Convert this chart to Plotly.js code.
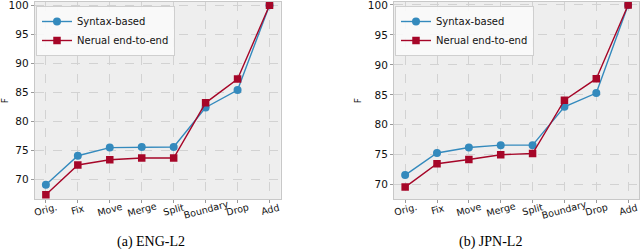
<!DOCTYPE html>
<html>
<head>
<meta charset="utf-8">
<script src="https://cdn.plot.ly/plotly-3.0.1.min.js"></script>
<style>html,body{margin:0;padding:0;background:#fff;}#chart{width:640px;height:249px;}</style>
</head>
<body>
<div id="chart"></div>
<script>
// ---- data ----
const categories = ["Orig.", "Fix", "Move", "Merge", "Split", "Boundary", "Drop", "Add"];
const seriesNames = ["Syntax-based", "Nerual end-to-end"];
const engSyntax = [69.1, 74.1, 75.5, 75.6, 75.6, 82.4, 85.4, 100.0];
const engNeural = [67.4, 72.5, 73.4, 73.7, 73.7, 83.2, 87.3, 100.0];
const jpnSyntax = [71.6, 75.3, 76.2, 76.6, 76.6, 83.0, 85.3, 100.0];
const jpnNeural = [69.6, 73.5, 74.2, 75.0, 75.2, 84.1, 87.7, 100.0];
const yTickVals = [70, 75, 80, 85, 90, 95, 100];
const captions = ["(a) ENG-L2", "(b) JPN-L2"];

// ---- style ----
const BLUE = "#348ABD", RED = "#A60628";
const FONT = "DejaVu Sans";
const TXT = "#111";

function trace(y, name, color, symbol, xa, ya, legend) {
  return {
    x: categories, y: y, name: name, type: "scatter", mode: "lines+markers",
    xaxis: xa, yaxis: ya, legend: legend,
    line: {color: color, width: 1.4},
    marker: {color: color, symbol: symbol, size: symbol === "square" ? 7.5 : 8,
             line: {width: 0}}
  };
}

const data = [
  trace(engSyntax, seriesNames[0], BLUE, "circle", "x", "y", "legend"),
  trace(engNeural, seriesNames[1], RED, "square", "x", "y", "legend"),
  trace(jpnSyntax, seriesNames[0], BLUE, "circle", "x2", "y2", "legend2"),
  trace(jpnNeural, seriesNames[1], RED, "square", "x2", "y2", "legend2")
];

const yBottom = (249 - 199.3) / 249, yTop = (249 - 2) / 249;

function xaxis(domain, anchor) {
  return {
    domain: domain, anchor: anchor, type: "category", range: [-0.35, 7.35],
    showticklabels: false, ticks: "outside", ticklen: 3, tickcolor: "#999",
    showgrid: true, gridcolor: "#d2d2d2", griddash: "dash", gridwidth: 1,
    showline: true, mirror: true, linecolor: "#c8c8c8", linewidth: 1,
    zeroline: false, fixedrange: true
  };
}
function yaxis(range, anchor) {
  return {
    domain: [yBottom, yTop], anchor: anchor, range: range,
    tickvals: yTickVals, ticktext: yTickVals.map(String),
    tickfont: {family: FONT, size: 10.5, color: TXT},
    ticklabeloverflow: "allow",
    ticks: "outside", ticklen: 3, tickcolor: "#999",
    showgrid: true, gridcolor: "#d2d2d2", griddash: "dash", gridwidth: 1,
    showline: true, mirror: true, linecolor: "#c8c8c8", linewidth: 1,
    zeroline: false, fixedrange: true,
    title: {text: "F", font: {family: FONT, size: 9, color: TXT}, standoff: 4}
  };
}

const annotations = [];
[["x", 0], ["x2", 1]].forEach(([xr, k]) => {
  categories.forEach(c => {
    annotations.push({
      x: c, xref: xr, y: yBottom, yref: "paper", yshift: -10,
      text: c, textangle: -15, showarrow: false,
      xanchor: "center", yanchor: "middle",
      font: {family: FONT, size: 9.5, color: TXT}
    });
  });
});
annotations.push({x: 151.2 / 640, xref: "paper", y: (249 - 241.5) / 249, yref: "paper",
  text: captions[0], showarrow: false, xanchor: "center", yanchor: "middle",
  font: {family: "Liberation Serif", size: 14, color: "#000"}});
annotations.push({x: 490.5 / 640, xref: "paper", y: (249 - 241.5) / 249, yref: "paper",
  text: captions[1], showarrow: false, xanchor: "center", yanchor: "middle",
  font: {family: "Liberation Serif", size: 14, color: "#000"}});

function legend(x) {
  return {
    x: x, y: 1 - 6 / 249, xanchor: "left", yanchor: "top",
    bgcolor: "rgba(250,250,250,0.9)", bordercolor: "#cfcfcf", borderwidth: 1,
    font: {family: FONT, size: 10, color: TXT}, tracegroupgap: 0, itemwidth: 30
  };
}

const layout = {
  width: 640, height: 249,
  margin: {l: 0, r: 0, t: 0, b: 0},
  paper_bgcolor: "#ffffff", plot_bgcolor: "#eeeeee",
  showlegend: true,
  xaxis: xaxis([34.7 / 640, 280.7 / 640], "y"),
  yaxis: yaxis([66.6, 100.55], "x"),
  xaxis2: xaxis([394 / 640, 639.3 / 640], "y2"),
  yaxis2: yaxis([67.56, 100.5], "x2"),
  legend: legend(36 / 640),
  legend2: legend(395 / 640),
  annotations: annotations
};

Plotly.newPlot("chart", data, layout, {staticPlot: true, displayModeBar: false});
</script>
</body>
</html>
